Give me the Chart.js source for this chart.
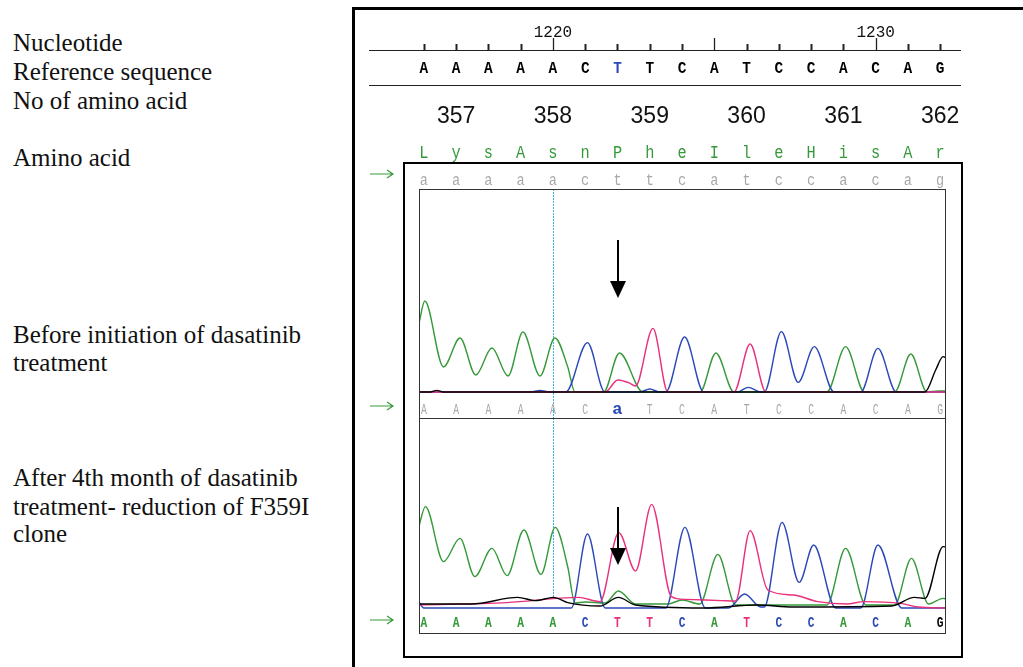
<!DOCTYPE html>
<html>
<head>
<meta charset="utf-8">
<script src="https://cdn.jsdelivr.net/npm/chart.js@4.4.0/dist/chart.umd.min.js"></script>
<style>
  body { margin: 0; background: #fff; width: 1023px; height: 667px; overflow: hidden; position: relative; }
  .lab { position: absolute; left: 13px; font-family: "Liberation Serif", serif; font-size: 25px; line-height: 28px; color: #111; white-space: nowrap; }
  #outer { position: absolute; left: 352px; top: 7px; width: 720px; height: 720px; border-left: 3px solid #000; border-top: 3px solid #000; }
  #inner { position: absolute; left: 403px; top: 162px; width: 560px; height: 496px; border: 2px solid #000; box-sizing: border-box; }
  canvas { position: absolute; left: 0; top: 0; }
</style>
</head>
<body>
<div id="outer"></div>
<div id="inner"></div>

<div class="lab" style="top:29px">Nucleotide</div>
<div class="lab" style="top:58px">Reference sequence</div>
<div class="lab" style="top:87px">No of amino acid</div>
<div class="lab" style="top:144px">Amino acid</div>
<div class="lab" style="top:321px">Before initiation of dasatinib</div>
<div class="lab" style="top:349px">treatment</div>
<div class="lab" style="top:464px">After 4th month of dasatinib</div>
<div class="lab" style="top:493px">treatment- reduction of F359I</div>
<div class="lab" style="top:520px">clone</div>

<canvas id="topChart" width="1023" height="667"></canvas>
<canvas id="botChart" width="1023" height="667"></canvas>

<script>
// sequence info (one entry per nucleotide position)
const nucleotides = [1216,1217,1218,1219,1220,1221,1222,1223,1224,1225,1226,1227,1228,1229,1230,1231,1232];
const rulerLabels = [1220, 1230];
const referenceSeq = ['A','A','A','A','A','C','T','T','C','A','T','C','C','A','C','A','G'];
const aminoNumbers = [357, 358, 359, 360, 361, 362];
const aminoLetters = ['L','y','s','A','s','n','P','h','e','I','l','e','H','i','s','A','r'];
const consensusSeq = ['a','a','a','a','a','c','t','t','c','a','t','c','c','a','c','a','g'];
const callsBefore = ['A','A','A','A','A','C','a','T','C','A','T','C','C','A','C','A','G'];
const callsAfter  = ['A','A','A','A','A','C','T','T','C','A','T','C','C','A','C','A','G'];
const mutationPos = 1222;

// trace signal, [position, intensity] - before dasatinib
const beforeA = [[1215.85,345],[1216.03,455],[1216.61,125],[1217.12,270],[1217.61,85],[1218.11,220],[1218.61,80],[1219.07,300],[1219.60,80],[1220.06,270],[1220.46,125],[1220.68,0],[1221.57,0],[1222.06,195],[1222.79,0],[1224.56,0],[1225.05,195],[1225.61,0],[1228.49,0],[1229.07,227],[1229.65,0],[1230.59,0],[1231.09,190],[1231.59,0],[1231.95,5],[1232.18,5]];
const beforeC = [[1215.85,0],[1219.3,0],[1219.6,8],[1219.9,0],[1220.40,0],[1221.07,247],[1221.61,0],[1222.7,0],[1223.0,15],[1223.3,0],[1223.50,0],[1224.08,275],[1224.67,0],[1225.72,0],[1226.05,23],[1226.44,0],[1226.55,0],[1227.08,302],[1227.60,48],[1228.10,227],[1228.71,0],[1229.54,0],[1230.07,218],[1230.64,0],[1232.18,0]];
const beforeT = [[1215.85,0],[1221.62,0],[1222.01,60],[1222.34,47],[1222.56,30],[1223.10,318],[1223.56,0],[1225.61,0],[1226.11,240],[1226.60,0],[1232.18,0]];
const beforeG = [[1215.85,0],[1216.2,0],[1216.4,8],[1216.6,0],[1231.53,0],[1231.86,110],[1232.09,177],[1232.18,170]];

// trace signal - after 4th month
const afterA = [[1215.83,383],[1216.05,492],[1216.61,217],[1217.12,333],[1217.58,142],[1218.11,283],[1218.58,147],[1219.10,375],[1219.63,153],[1220.07,388],[1220.46,190],[1220.68,10],[1221.0,15],[1221.62,10],[1222.03,70],[1222.56,5],[1223.56,5],[1224.0,25],[1224.55,5],[1225.11,253],[1225.66,0],[1228.49,0],[1229.07,283],[1229.70,0],[1230.59,0],[1231.11,233],[1231.64,5],[1232.09,33],[1232.18,30]];
const afterC = [[1215.83,20],[1216.0,-15],[1220.57,-15],[1221.07,355],[1221.62,-15],[1223.50,-15],[1224.09,388],[1224.72,-15],[1225.44,-15],[1225.94,55],[1226.44,-10],[1226.55,-10],[1227.10,413],[1227.63,113],[1228.08,300],[1228.76,-15],[1229.54,-15],[1230.07,300],[1230.81,-15],[1232.18,-15]];
const afterT = [[1215.83,0],[1218.58,12],[1220.79,38],[1221.46,17],[1222.04,362],[1222.56,170],[1223.06,503],[1223.67,42],[1224.11,28],[1225.22,22],[1225.66,20],[1226.11,372],[1226.66,75],[1227.44,50],[1228.21,17],[1229.10,5],[1229.65,17],[1230.76,8],[1231.31,-10],[1232.18,-15]];
const afterG = [[1215.83,5],[1217.47,5],[1218.91,38],[1219.46,22],[1220.02,38],[1220.46,12],[1221.46,-5],[1222.03,38],[1222.56,0],[1224.67,-15],[1226.32,0],[1227.44,-10],[1230.5,-5],[1231.2,38],[1231.53,33],[1232.09,292],[1232.18,290]];

const baseColors = { A: '#36993a', C: '#2a48b8', T: '#e8307c', G: '#000000' };

function toPoints(arr) {
  return arr.map(p => ({ x: p[0], y: p[1] }));
}

function traceSets(a, c, t, g) {
  return [
    { data: toPoints(g), borderColor: baseColors.G },
    { data: toPoints(t), borderColor: baseColors.T },
    { data: toPoints(c), borderColor: baseColors.C },
    { data: toPoints(a), borderColor: baseColors.A }
  ];
}

// draw a row of letters at the nucleotide positions
function letterRow(ctx, xs, letters, y, font, color, squeeze) {
  ctx.font = font;
  ctx.textAlign = 'center';
  ctx.textBaseline = 'alphabetic';
  letters.forEach((l, i) => {
    let x = xs.getPixelForValue(nucleotides[i]);
    ctx.fillStyle = typeof color === 'function' ? color(l, i) : color;
    ctx.save();
    ctx.translate(x, y);
    ctx.scale(squeeze || 1, 1);
    ctx.fillText(l, 0, 0);
    ctx.restore();
  });
}

function downArrow(ctx, x, y0, tip) {
  ctx.strokeStyle = '#000';
  ctx.fillStyle = '#000';
  ctx.lineWidth = 2;
  ctx.beginPath(); ctx.moveTo(x, y0); ctx.lineTo(x, tip - 14); ctx.stroke();
  ctx.beginPath(); ctx.moveTo(x - 8, tip - 17); ctx.lineTo(x + 8, tip - 17); ctx.lineTo(x, tip); ctx.closePath(); ctx.fill();
}

function greenArrow(ctx, y) {
  ctx.strokeStyle = '#36993a';
  ctx.lineWidth = 1.2;
  ctx.beginPath();
  ctx.moveTo(370, y); ctx.lineTo(393, y);
  ctx.moveTo(387, y - 4); ctx.lineTo(393, y); ctx.lineTo(387, y + 4);
  ctx.stroke();
}

function cyanLine(ctx, xs, top, bottom) {
  let x = Math.round(xs.getPixelForValue(1220)) + 0.5;
  ctx.save();
  ctx.strokeStyle = '#3fb4e4';
  ctx.lineWidth = 1;
  ctx.setLineDash([2, 1]);
  ctx.beginPath(); ctx.moveTo(x, top); ctx.lineTo(x, bottom); ctx.stroke();
  ctx.restore();
}

function frame(ctx, a) {
  ctx.strokeStyle = '#333';
  ctx.lineWidth = 1;
  ctx.strokeRect(a.left + 0.5, a.top + 0.5, a.right - a.left - 1, a.bottom - a.top);
}

const headerPlugin = {
  id: 'header',
  beforeDatasetsDraw(chart) {
    cyanLine(chart.ctx, chart.scales.x, chart.chartArea.top, chart.chartArea.bottom);
  },
  afterDraw(chart) {
    const ctx = chart.ctx, xs = chart.scales.x, a = chart.chartArea;
    ctx.save();
    frame(ctx, a);

    // ruler
    ctx.strokeStyle = '#222';
    ctx.lineWidth = 1;
    ctx.beginPath(); ctx.moveTo(369, 50.5); ctx.lineTo(961, 50.5); ctx.stroke();
    ctx.beginPath(); ctx.moveTo(369, 85.5); ctx.lineTo(961, 85.5); ctx.stroke();
    nucleotides.forEach(n => {
      let x = Math.round(xs.getPixelForValue(n)) + 0.5;
      ctx.lineWidth = n % 5 === 0 ? 1.3 : 2;
      ctx.beginPath(); ctx.moveTo(x, 50); ctx.lineTo(x, n % 5 === 0 ? 38 : 44); ctx.stroke();
    });
    ctx.fillStyle = '#111';
    ctx.font = '16px "Liberation Mono"';
    ctx.textAlign = 'center';
    rulerLabels.forEach(n => ctx.fillText(String(n), xs.getPixelForValue(n), 37));

    // reference sequence
    letterRow(ctx, xs, referenceSeq, 73, 'bold 16px "Liberation Mono"', (l, i) => i === 6 ? '#2a48b8' : '#000', 0.9);

    // amino acid numbers centred on each codon
    ctx.font = '23px "Liberation Sans"';
    ctx.fillStyle = '#111';
    aminoNumbers.forEach(n => {
      let mid = nucleotides[0] + 3 * (n - aminoNumbers[0]) + 1;
      ctx.fillText(String(n), xs.getPixelForValue(mid), 123);
    });

    letterRow(ctx, xs, aminoLetters, 158, '18px "Liberation Mono"', '#36993a', 0.85);

    // rows clipped to the trace frame width
    ctx.save();
    ctx.beginPath(); ctx.rect(a.left, 0, a.right - a.left, 667); ctx.clip();
    letterRow(ctx, xs, consensusSeq, 185, '16px "Liberation Mono"', '#a8a8a8', 0.85);
    letterRow(ctx, xs, callsBefore, 414, '15px "Liberation Mono"', '#a8a8a8', 0.65);
    let mi = nucleotides.indexOf(mutationPos);
    ctx.fillStyle = '#fff';
    ctx.fillRect(xs.getPixelForValue(mutationPos) - 6, 401, 12, 15);
    ctx.font = 'bold 17px "Liberation Mono"';
    ctx.fillStyle = '#2a48b8';
    ctx.fillText(callsBefore[mi], xs.getPixelForValue(mutationPos), 414);
    ctx.restore();

    downArrow(ctx, Math.round(xs.getPixelForValue(mutationPos)) + 1, 240, 298);
    greenArrow(ctx, 174);
    greenArrow(ctx, 406);
    ctx.restore();
  }
};

const afterPlugin = {
  id: 'afterPanel',
  beforeDatasetsDraw(chart) {
    cyanLine(chart.ctx, chart.scales.x, chart.chartArea.top, 598);
  },
  afterDraw(chart) {
    const ctx = chart.ctx, xs = chart.scales.x, a = chart.chartArea;
    ctx.save();
    frame(ctx, a);
    ctx.beginPath(); ctx.rect(a.left, a.top, a.right - a.left, a.bottom - a.top); ctx.clip();
    letterRow(ctx, xs, callsAfter, 627, 'bold 15px "Liberation Mono"', l => baseColors[l.toUpperCase()], 0.75);
    ctx.restore();
    downArrow(ctx, Math.round(xs.getPixelForValue(mutationPos)) + 1, 507, 565);
    greenArrow(ctx, 620);
  }
};

function baseOptions(pad, yMin, yMax) {
  return {
    responsive: false,
    animation: false,
    events: [],
    layout: { padding: pad },
    plugins: { legend: { display: false }, tooltip: { enabled: false } },
    elements: {
      point: { radius: 0 },
      line: { borderWidth: 1.4, cubicInterpolationMode: 'monotone' }
    },
    scales: {
      x: { type: 'linear', min: 1215.85, max: 1232.18, display: false },
      y: { min: yMin, max: yMax, display: false }
    }
  };
}

new Chart(document.getElementById('topChart').getContext('2d'), {
  type: 'line',
  data: { datasets: traceSets(beforeA, beforeC, beforeT, beforeG) },
  options: baseOptions({ left: 419, right: 77, top: 189, bottom: 249 }, -130, 1015),
  plugins: [headerPlugin]
});

new Chart(document.getElementById('botChart').getContext('2d'), {
  type: 'line',
  data: { datasets: traceSets(afterA, afterC, afterT, afterG) },
  options: baseOptions({ left: 419, right: 77, top: 418, bottom: 34 }, -140, 935),
  plugins: [afterPlugin]
});
</script>
</body>
</html>
